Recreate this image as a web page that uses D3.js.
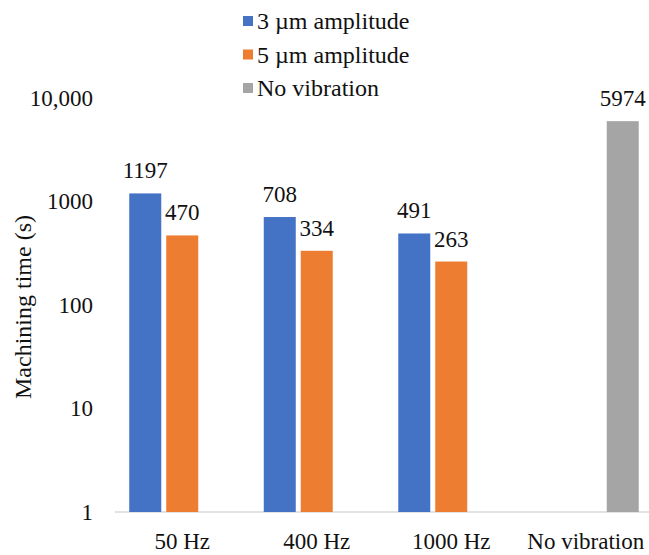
<!DOCTYPE html>
<html>
<head>
<meta charset="utf-8">
<script src="https://cdn.jsdelivr.net/npm/d3@7"></script>
<style>
  html, body { margin: 0; padding: 0; background: #fff; }
  svg text { font-family: "Liberation Serif", "Times New Roman", Times, serif !important; }
</style>
</head>
<body>
<svg id="chart" width="649" height="555"></svg>
<script>
// Machining time per vibration condition (log scale)
const categories = ["50 Hz", "400 Hz", "1000 Hz", "No vibration"];
const seriesNames = ["3 µm amplitude", "5 µm amplitude", "No vibration"];
const amp3 = [1197, 708, 491, null];
const amp5 = [470, 334, 263, null];
const noVibration = [null, null, null, 5974];
const tickValues = [1, 10, 100, 1000, 10000];
const tickLabels = ["1", "10", "100", "1000", "10,000"];
const colors = ["#4472C4", "#ED7D31", "#A5A5A5"];
const yTitle = "Machining time (s)";

const seriesValues = [amp3, amp5, noVibration];
const serif = '"Liberation Serif", "Times New Roman", Times, serif';

const svg = d3.select("#chart");

const x = d3.scaleBand()
  .domain(categories)
  .range([115, 653])
  .paddingInner(0.212)
  .paddingOuter(0.106);

const xInner = d3.scaleBand()
  .domain(seriesNames)
  .range([0, x.bandwidth()])
  .paddingInner(0.135)
  .paddingOuter(0);

const y = d3.scaleLog()
  .domain([1, 10000])
  .range([512, 98]);

// Category axis line
svg.append("line")
  .attr("x1", 115).attr("x2", 649)
  .attr("y1", y(1)).attr("y2", y(1))
  .attr("stroke", "#D9D9D9")
  .attr("stroke-width", 1.5);

// Value axis labels
const yAxis = d3.axisLeft(y)
  .tickValues(tickValues)
  .tickFormat((d, i) => tickLabels[i])
  .tickSize(0)
  .tickPadding(0);

const yg = svg.append("g")
  .attr("transform", "translate(93,0)")
  .call(yAxis)
  .attr("font-family", null)
  .attr("font-size", null);
yg.select(".domain").remove();
yg.selectAll("text")
  .style("font-family", serif)
  .style("font-size", "23px")
  .attr("fill", "#111");

// Category labels
const xAxis = d3.axisBottom(x).tickSize(0).tickPadding(0);
const xg = svg.append("g")
  .attr("transform", `translate(0,${y(1)})`)
  .call(xAxis)
  .attr("font-family", null)
  .attr("font-size", null);
xg.select(".domain").remove();
xg.selectAll("text")
  .style("font-family", serif)
  .style("font-size", "23px")
  .attr("fill", "#111")
  .attr("dy", 0)
  .attr("y", 37);

// Bars and value labels
seriesNames.forEach((name, si) => {
  const vals = seriesValues[si];
  const pts = categories.map((c, i) => ({ c, v: vals[i] })).filter(d => d.v != null);
  const g = svg.append("g");
  g.selectAll("rect")
    .data(pts)
    .enter().append("rect")
    .attr("x", d => x(d.c) + xInner(name))
    .attr("width", xInner.bandwidth())
    .attr("y", d => y(d.v))
    .attr("height", d => y(1) - y(d.v))
    .attr("fill", colors[si]);
  g.selectAll("text")
    .data(pts)
    .enter().append("text")
    .attr("x", d => x(d.c) + xInner(name) + xInner.bandwidth() / 2)
    .attr("y", d => y(d.v) - 15)
    .attr("text-anchor", "middle")
    .style("font-family", serif)
    .style("font-size", "23px")
    .attr("fill", "#111")
    .text(d => d.v);
});

// Y-axis title
svg.append("text")
  .attr("transform", "translate(31,307) rotate(-90)")
  .attr("text-anchor", "middle")
  .style("font-family", serif)
  .style("font-size", "24px")
  .attr("fill", "#111")
  .text(yTitle);

// Legend
const legend = svg.append("g").attr("transform", "translate(243,21)");
seriesNames.forEach((name, i) => {
  const row = legend.append("g").attr("transform", `translate(0,${i * 33.5})`);
  row.append("rect")
    .attr("x", 0).attr("y", -5)
    .attr("width", 10).attr("height", 10)
    .attr("fill", colors[i]);
  row.append("text")
    .attr("x", 14)
    .attr("y", 0)
    .attr("dy", "0.34em")
    .style("font-family", serif)
    .style("font-size", "24px")
    .attr("fill", "#111")
    .text(name);
});
</script>
</body>
</html>
